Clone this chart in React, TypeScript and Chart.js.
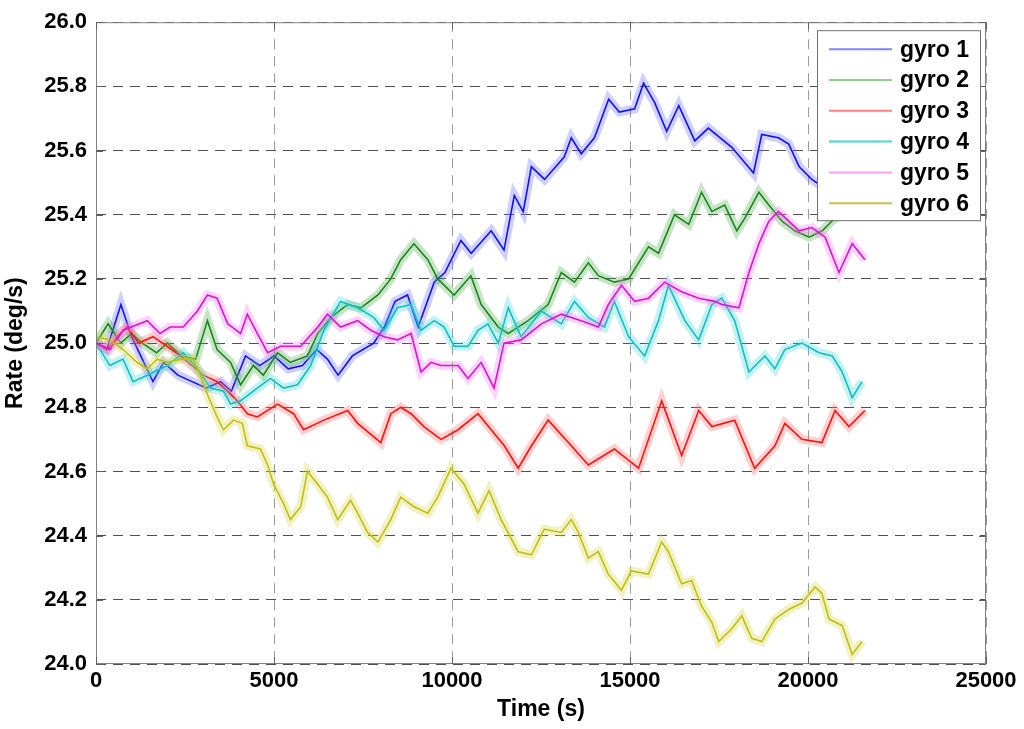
import React, { useEffect, useRef } from "react";
import { Chart, registerables } from "chart.js";

Chart.register(...registerables);

const seriesNames = ["gyro 1", "gyro 2", "gyro 3", "gyro 4", "gyro 5", "gyro 6"];
const xTickValues = [0, 5000, 10000, 15000, 20000, 25000];

const gyro1Time = [0,300,700,1000,1300,1600,1900,2300,2700,3100,3500,3800,4200,4600,5000,5400,5800,6200,6500,6800,7200,7800,8100,8400,8750,9050,9500,9800,10250,10540,11100,11460,11750,12000,12230,12600,13150,13350,13630,14000,14400,14700,15130,15380,15690,16030,16370,16820,17200,17860,18470,18700,19170,19460,19750,20110,20500,21000,21500];
const gyro1Rate = [25.00,24.98,25.12,25.02,24.95,24.88,24.94,24.90,24.88,24.86,24.88,24.85,24.96,24.93,24.96,24.92,24.93,24.98,24.95,24.90,24.96,25.00,25.05,25.13,25.15,25.05,25.19,25.22,25.32,25.28,25.35,25.29,25.46,25.41,25.55,25.51,25.58,25.64,25.59,25.64,25.76,25.72,25.73,25.81,25.75,25.66,25.74,25.63,25.67,25.61,25.53,25.65,25.64,25.62,25.55,25.51,25.48,25.45,25.47];

const gyro2Time = [0,340,700,1000,1300,1700,2000,2400,2800,3130,3400,3780,4060,4420,4700,5100,5460,5940,6230,6600,7070,7440,7920,8280,8560,8930,9320,9600,10060,10530,10820,11300,11580,12140,12700,13070,13440,13830,14110,14560,14960,15520,15800,16250,16650,17010,17300,17660,18000,18230,18620,18900,19270,19630,20030,20400,20760,21100,21500];
const gyro2Rate = [25.00,25.06,25.00,25.03,25.00,24.97,25.00,24.96,24.95,25.07,24.98,24.94,24.87,24.93,24.90,24.97,24.94,24.96,25.03,25.08,25.12,25.11,25.15,25.20,25.26,25.31,25.26,25.20,25.15,25.21,25.12,25.05,25.03,25.07,25.12,25.22,25.19,25.25,25.21,25.19,25.20,25.30,25.28,25.40,25.37,25.47,25.41,25.43,25.35,25.39,25.47,25.43,25.38,25.35,25.33,25.35,25.39,25.43,25.45];

const gyro3Time = [0,300,600,870,1200,1600,2000,2370,2700,3010,3400,3700,3970,4250,4530,5100,5550,5830,6400,7070,7350,8000,8280,8560,8850,9210,9690,10170,10730,11100,11470,11860,12230,12700,13270,13830,14560,15240,15890,16450,16930,17300,17940,18500,19070,19350,19830,20390,20760,21150,21600];
const gyro3Rate = [25.00,24.98,25.02,25.05,25.00,25.02,24.99,24.96,24.93,24.90,24.88,24.85,24.82,24.78,24.77,24.81,24.78,24.73,24.76,24.79,24.75,24.69,24.78,24.80,24.78,24.74,24.70,24.73,24.78,24.73,24.68,24.61,24.68,24.76,24.69,24.62,24.67,24.61,24.82,24.65,24.79,24.74,24.76,24.61,24.68,24.75,24.70,24.69,24.79,24.74,24.79];

const gyro4Time = [0,390,760,1040,1440,2000,2450,2850,3210,3580,3780,4060,4530,4900,5270,5660,6030,6400,6870,7350,7800,8090,8470,8850,9130,9500,9780,10060,10450,10730,11010,11300,11580,11940,12510,13070,13440,13830,14280,14560,14960,15410,15800,16080,16540,16930,17300,17580,17940,18340,18790,19070,19350,19830,20310,20680,20960,21240,21520];
const gyro4Rate = [25.00,24.93,24.95,24.88,24.90,24.93,24.97,24.92,24.86,24.85,24.81,24.82,24.86,24.89,24.86,24.87,24.93,25.04,25.13,25.11,25.08,25.04,25.11,25.12,25.04,25.07,25.05,24.99,24.99,25.04,25.06,25.00,25.11,25.02,25.10,25.06,25.13,25.08,25.05,25.13,25.02,24.96,25.07,25.18,25.07,25.01,25.12,25.14,25.07,24.91,24.96,24.92,24.98,25.00,24.97,24.96,24.91,24.83,24.88];

const gyro5Time = [0,390,760,1440,1800,2080,2450,2850,3130,3400,3700,4060,4250,4530,4820,5180,5750,6230,6500,6870,7350,7720,8090,8470,8850,9130,9410,9690,10170,10450,10820,11180,11460,11940,12510,13070,13630,14110,14390,14760,15130,15520,15970,16450,16930,17380,17580,18060,18340,18620,18900,19170,19460,19750,20110,20480,20870,21240,21600];
const gyro5Rate = [25.00,24.98,25.04,25.07,25.03,25.05,25.05,25.10,25.15,25.14,25.06,25.03,25.09,25.03,24.97,24.99,24.99,25.05,25.09,25.05,25.07,25.04,25.02,25.01,25.03,24.91,24.94,24.93,24.93,24.89,24.94,24.86,25.00,25.01,25.06,25.09,25.07,25.05,25.12,25.18,25.13,25.14,25.19,25.16,25.14,25.13,25.12,25.11,25.22,25.31,25.38,25.41,25.38,25.35,25.36,25.33,25.22,25.31,25.26];

const gyro6Time = [0,390,760,1150,1440,1720,2000,2370,2730,2930,3130,3400,3580,3860,4110,4250,4620,4820,4990,5270,5460,5750,5940,6230,6500,6790,7150,7350,7630,7920,8280,8560,8930,9320,9600,9970,10340,10730,11040,11380,11860,12230,12590,13070,13350,13550,13830,14110,14390,14760,15040,15520,15890,16080,16450,16730,17010,17300,17490,17860,18140,18420,18700,19070,19460,19830,20200,20390,20590,20960,21240,21520];
const gyro6Rate = [25.02,25.01,24.98,24.94,24.92,24.95,24.94,24.95,24.95,24.90,24.84,24.77,24.73,24.76,24.75,24.68,24.67,24.62,24.56,24.50,24.45,24.49,24.60,24.56,24.52,24.45,24.51,24.47,24.41,24.38,24.45,24.52,24.49,24.47,24.52,24.61,24.56,24.47,24.54,24.45,24.35,24.34,24.42,24.41,24.45,24.41,24.33,24.35,24.28,24.23,24.29,24.28,24.38,24.35,24.25,24.26,24.18,24.13,24.07,24.11,24.15,24.08,24.07,24.14,24.17,24.19,24.24,24.22,24.14,24.12,24.03,24.07];

const seriesTimes = [gyro1Time, gyro2Time, gyro3Time, gyro4Time, gyro5Time, gyro6Time];
const seriesRates = [gyro1Rate, gyro2Rate, gyro3Rate, gyro4Rate, gyro5Rate, gyro6Rate];

const coreColors = ["#1010ff", "#1a881a", "#ff1010", "#10c0c0", "#e010d8", "#c0c010"];
const bandColors = [
  "rgba(110,110,255,0.32)",
  "rgba(80,170,80,0.32)",
  "rgba(255,110,110,0.32)",
  "rgba(70,215,215,0.32)",
  "rgba(250,120,240,0.32)",
  "rgba(210,210,70,0.32)",
];
const legendColors = ["#7f7fff", "#8fcf8f", "#ff7f7f", "#40d8d8", "#ff9fef", "#c8c048"];

const FONT = "'Liberation Sans', Arial, sans-serif";

const framePlugin = {
  id: "frameAndLegend",
  afterDatasetsDraw(chart: any) {
    const { ctx, chartArea } = chart;
    const { left, right, top, bottom } = chartArea;
    const xs = chart.scales.x;
    const ys = chart.scales.y;
    ctx.save();
    ctx.strokeStyle = "#808080";
    ctx.lineWidth = 1;
    ctx.strokeRect(left + 0.5, top + 0.5, right - left - 1, bottom - top - 1);
    ctx.strokeStyle = "#606060";
    ctx.beginPath();
    xs.ticks.forEach((t: any) => {
      const px = Math.round(xs.getPixelForValue(t.value)) + 0.5;
      ctx.moveTo(px, bottom);
      ctx.lineTo(px, bottom - 7);
      ctx.moveTo(px, top);
      ctx.lineTo(px, top + 7);
    });
    ys.ticks.forEach((t: any) => {
      const py = Math.round(ys.getPixelForValue(t.value)) + 0.5;
      ctx.moveTo(left, py);
      ctx.lineTo(left + 7, py);
      ctx.moveTo(right, py);
      ctx.lineTo(right - 7, py);
    });
    ctx.stroke();

    const bx = right - 169;
    const by = top + 8;
    const bw = 163;
    const bh = 190;
    ctx.fillStyle = "#ffffff";
    ctx.fillRect(bx, by, bw, bh);
    ctx.strokeStyle = "#707070";
    ctx.strokeRect(bx + 0.5, by + 0.5, bw, bh);
    ctx.font = `bold 23px ${FONT}`;
    ctx.textBaseline = "middle";
    ctx.textAlign = "left";
    seriesNames.forEach((name, i) => {
      const cy = by + 19 + i * 30.8;
      ctx.strokeStyle = legendColors[i];
      ctx.lineWidth = 2;
      ctx.beginPath();
      ctx.moveTo(bx + 12, cy);
      ctx.lineTo(bx + 75, cy);
      ctx.stroke();
      ctx.fillStyle = "#000000";
      ctx.fillText(name, bx + 83, cy + 1);
    });
    ctx.restore();
  },
};

export default function App() {
  const canvasRef = useRef<HTMLCanvasElement>(null);

  useEffect(() => {
    const canvas = canvasRef.current;
    if (!canvas) return;
    const datasets: any[] = [];
    seriesNames.forEach((name, i) => {
      const pts = seriesTimes[i].map((t, k) => ({ x: t, y: seriesRates[i][k] }));
      datasets.push({
        label: name + " band",
        data: pts,
        borderColor: bandColors[i],
        borderWidth: 9,
        pointRadius: 0,
        tension: 0,
        order: 20 - 2 * i,
      });
      datasets.push({
        label: name,
        data: pts,
        borderColor: coreColors[i],
        borderWidth: 1.6,
        pointRadius: 0,
        tension: 0,
        order: 19 - 2 * i,
      });
    });

    const chart = new Chart(canvas, {
      type: "line",
      data: { datasets },
      options: {
        responsive: false,
        animation: false,
        devicePixelRatio: 1,
        layout: { padding: { left: 0, right: 38, top: 15, bottom: 0 } },
        plugins: {
          legend: { display: false },
          tooltip: { enabled: false },
        },
        scales: {
          x: {
            type: "linear",
            min: 0,
            max: 25000,
            afterBuildTicks: (scale: any) => {
              scale.ticks = xTickValues.map((v) => ({ value: v }));
            },
            afterFit: (scale: any) => {
              scale.height = 65;
            },
            ticks: {
              font: { family: FONT, size: 22, weight: "bold" },
              color: "#000000",
              padding: 4,
              maxRotation: 0,
              callback: (v: any) => String(v),
            },
            grid: { color: "#9a9a9a", drawTicks: false, lineWidth: 1 },
            border: { display: false, dash: [10, 7] },
            title: {
              display: true,
              text: "Time (s)",
              font: { family: FONT, size: 23, weight: "bold" },
              color: "#000000",
              padding: { top: 0, bottom: 6 },
            },
          },
          y: {
            type: "linear",
            min: 24,
            max: 26,
            ticks: {
              stepSize: 0.2,
              font: { family: FONT, size: 22, weight: "bold" },
              color: "#000000",
              padding: 9,
              callback: (v: any) => Number(v).toFixed(1),
            },
            afterFit: (scale: any) => {
              scale.width = 96;
            },
            grid: { color: "#505050", drawTicks: false, lineWidth: 1 },
            border: { display: false, dash: [10, 7] },
            title: {
              display: true,
              text: "Rate (deg/s)",
              font: { family: FONT, size: 23, weight: "bold" },
              color: "#000000",
              padding: { top: 2, bottom: 0 },
            },
          },
        },
      },
      plugins: [framePlugin],
    });

    return () => chart.destroy();
  }, []);

  return (
    <div style={{ position: "absolute", left: 0, top: 0, width: 1024, height: 729, background: "#ffffff" }}>
      <canvas ref={canvasRef} width={1024} height={729} style={{ display: "block" }} />
    </div>
  );
}
